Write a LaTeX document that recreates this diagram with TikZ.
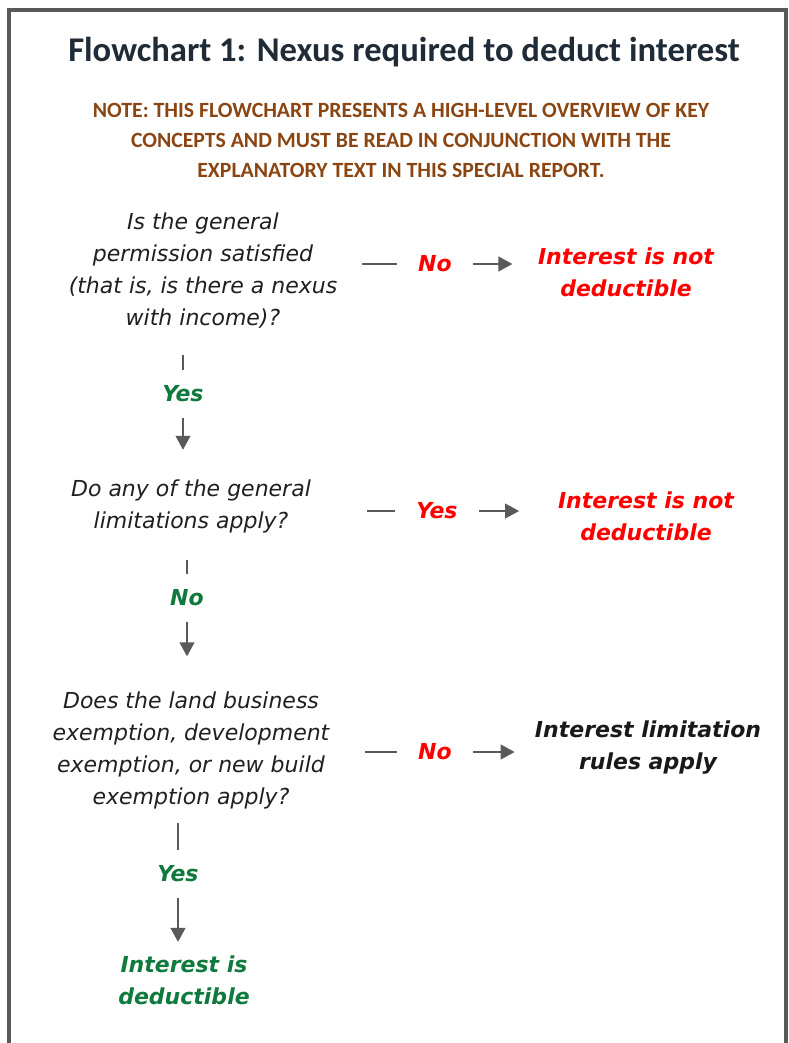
\documentclass[tikz,border=0pt]{standalone}
\usepackage{fontspec}
\setmainfont{DejaVu Sans}[ItalicFont={DejaVu Sans Oblique},BoldFont={DejaVu Sans Bold},BoldItalicFont={DejaVu Sans Bold Oblique}]
\newfontfamily\headfont{Carlito}
\usepackage{xcolor}
\usetikzlibrary{arrows.meta}
\definecolor{framegray}{HTML}{595959}
\definecolor{titleblue}{HTML}{1F2B37}
\definecolor{notebrown}{HTML}{8A4512}
\definecolor{yesgreen}{HTML}{0E7A3D}
\definecolor{nored}{HTML}{FF0000}

\begin{document}
\begin{tikzpicture}[x=0.75pt,y=-0.75pt,
  question/.style={align=center,inner sep=0pt,text=black!88,font=\itshape\fontsize{16.5}{24}\selectfont},
  result/.style={align=center,inner sep=0pt,font=\bfseries\itshape\fontsize{16.5}{24}\selectfont},
  lbl/.style={inner xsep=16pt,inner ysep=12pt,font=\bfseries\itshape\fontsize{16.5}{20}\selectfont},
  conn/.style={draw=framegray,line width=1.5pt},
  arr/.style={conn,-{Triangle[length=10.5pt,width=11pt]}}]
\useasboundingbox (0,0) rectangle (789,1043);
\draw[framegray,line width=3pt] (9,1050) -- (9,10) -- (786,10) -- (786,1050);
\node (title) at (404,52) [inner sep=0pt,text=titleblue,font=\headfont\bfseries\fontsize{26}{30}\selectfont]{Flowchart 1: Nexus required to deduct interest};
\node (note) at (401,140) [align=center,inner sep=0pt,text=notebrown,font=\headfont\bfseries\fontsize{16.3}{22.5}\selectfont]{NOTE: THIS FLOWCHART PRESENTS A HIGH-LEVEL OVERVIEW OF KEY\\ CONCEPTS AND MUST BE READ IN CONJUNCTION WITH THE\\ EXPLANATORY TEXT IN THIS SPECIAL REPORT.};
% first question
\node (q1) at (203,271) [question]{Is the general\\ permission satisfied\\ (that is, is there a nexus\\ with income)?};
\node (no1) at (435,264) [lbl,text=nored]{No};
\node (r1) at (626,272) [result,text=nored]{Interest is not\\ deductible};
\coordinate (s1) at (362,264);
\draw[conn] (s1) -- (no1);
\draw[arr,shorten >=19pt] (no1) -- (no1 -| r1.west);
\node (yes1) at (183,394) [lbl,text=yesgreen]{Yes};
\coordinate (t1) at (183,355);
\draw[conn] (t1) -- (yes1);
% second question
\node (q2) at (191,506) [question]{Do any of the general\\ limitations apply?};
\draw[arr,shorten >=22pt] (yes1) -- (yes1 |- q2.north);
\node (yes2) at (437,511) [lbl,text=nored]{Yes};
\node (r2) at (646,516) [result,text=nored]{Interest is not\\ deductible};
\coordinate (s2) at (367,511);
\draw[conn] (s2) -- (yes2);
\draw[arr,shorten >=29pt] (yes2) -- (yes2 -| r2.west);
\node (no2) at (187,598) [lbl,text=yesgreen]{No};
\coordinate (t2) at (187,560);
\draw[conn] (t2) -- (no2);
% third question
\node (q3) at (191,750) [question]{Does the land business\\ exemption, development\\ exemption, or new build\\ exemption apply?};
\draw[arr,shorten >=26pt] (no2) -- (no2 |- q3.north);
\node (no3) at (435,752) [lbl,text=nored]{No};
\node (r3) at (648,748) [result,text=black!90]{Interest limitation\\ rules apply};
\coordinate (s3) at (365,752);
\draw[conn] (s3) -- (no3);
\draw[arr,shorten >=15pt] (no3) -- (no3 -| r3.west);
\node (yes3) at (178,874) [lbl,text=yesgreen]{Yes};
\coordinate (t3) at (178,823);
\draw[conn] (t3) -- (yes3);
\node (fin) at (184,980) [result,text=yesgreen]{Interest is\\ deductible};
\draw[arr,shorten >=10pt] (yes3) -- (yes3 |- fin.north);
\end{tikzpicture}
\end{document}
